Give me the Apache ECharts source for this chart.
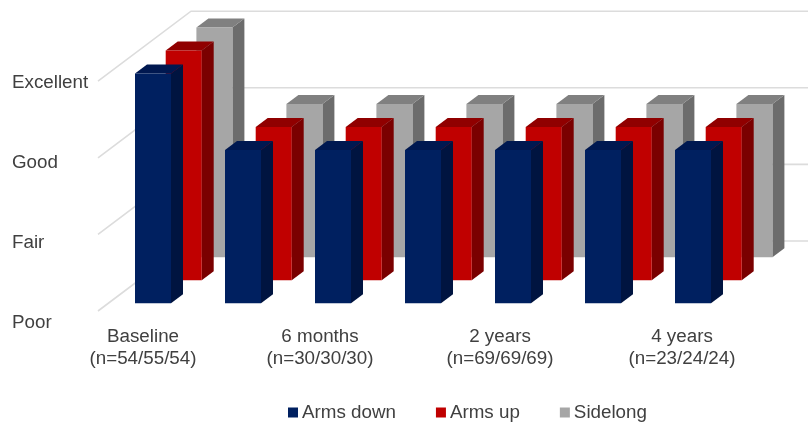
<!DOCTYPE html>
<html>
<head>
<meta charset="utf-8">
<style>html,body{margin:0;padding:0;background:#fff}#chart{width:808px;height:424px}</style>
<script src="https://cdn.jsdelivr.net/npm/echarts@6/dist/echarts.min.js"></script>
</head>
<body>
<div id="chart"></div>
<script>
// Shoulder function scores over follow-up, one value per time point.
const timePoints = ['Baseline\n(n=54/55/54)', '', '6 months\n(n=30/30/30)', '', '2 years\n(n=69/69/69)', '', '4 years\n(n=23/24/24)'];
const labelShift = [20, 0, 26, 0, 26, 0, 22];
const gradeLabels = ['Poor', 'Fair', 'Good', 'Excellent'];
const gradeLevels = [0, 1, 2, 3];
const armsDown = [3, 2, 2, 2, 2, 2, 2];
const armsUp = [3, 2, 2, 2, 2, 2, 2];
const sidelong = [3, 2, 2, 2, 2, 2, 2];

const textColor = '#404040';
const fontFamily = '"Liberation Sans", Arial, Helvetica, sans-serif';
const fontSize = 18.8;

// Oblique projection: one series row steps back by rowStep, a box is boxDepth deep.
const rowStep = [30.7, -23];
const boxDepth = [12, -9];

function boxRenderer(row, shades) {
  return function (params, api) {
    const cat = api.value(0);
    const base = api.coord([cat, 0]);
    const top = api.coord([cat, api.value(1)]);
    const w = api.size([1, 0])[0] * 0.4;
    const x0 = base[0] - w / 2 + row * rowStep[0];
    const x1 = x0 + w;
    const yb = base[1] + row * rowStep[1];
    const yt = top[1] + row * rowStep[1];
    const dx = boxDepth[0], dy = boxDepth[1];
    return {
      type: 'group',
      children: [
        { type: 'polygon', shape: { points: [[x1, yt], [x1 + dx, yt + dy], [x1 + dx, yb + dy], [x1, yb]] }, style: { fill: shades.side } },
        { type: 'polygon', shape: { points: [[x0, yt], [x0 + dx, yt + dy], [x1 + dx, yt + dy], [x1, yt]] }, style: { fill: shades.top } },
        { type: 'rect', shape: { x: x0, y: yt, width: w, height: yb - yt }, style: { fill: shades.front } }
      ]
    };
  };
}

// Grid on the side and back walls of the box, for each grade level.
function wallRenderer(params, api) {
  const p = api.coord([0, api.value(0)]);
  const fx = p[0] - 55, fy = p[1] + 7.7;
  const bx = fx + 93, by = fy - 70;
  return {
    type: 'polyline',
    shape: { points: [[fx, fy], [bx, by], [830, by]] },
    style: { fill: null, stroke: '#dcdcdc', lineWidth: 1.6 }
  };
}

function boxSeries(name, values, row, shades) {
  return {
    name: name,
    type: 'custom',
    xAxisIndex: 0,
    yAxisIndex: 0,
    clip: false,
    itemStyle: { color: shades.front },
    data: values.map(function (v, i) { return [i, v]; }),
    encode: { x: 0, y: 1 },
    renderItem: boxRenderer(row, shades)
  };
}

const chart = echarts.init(document.getElementById('chart'), null, { renderer: 'canvas' });
chart.setOption({
  animation: false,
  backgroundColor: '#ffffff',
  textStyle: { fontFamily: fontFamily },
  grid: [
    { left: 108, width: 630, top: 73.5, height: 229.8 },
    { left: 20, width: 60, top: 82.5, height: 240 }
  ],
  xAxis: [
    {
      gridIndex: 0,
      type: 'category',
      data: timePoints.map(function (t, i) {
        return { value: t, textStyle: { padding: [0, labelShift[i], 0, 0] } };
      }),
      axisLine: { show: false },
      axisTick: { show: false },
      axisLabel: {
        interval: 0,
        margin: 22.5,
        color: textColor,
        fontSize: fontSize,
        lineHeight: 22,
        fontFamily: fontFamily
      }
    },
    { gridIndex: 1, type: 'value', show: false }
  ],
  yAxis: [
    { gridIndex: 0, type: 'value', min: 0, max: 3, interval: 1, show: false },
    {
      gridIndex: 1,
      type: 'value',
      min: 0,
      max: 3,
      interval: 1,
      axisLine: { show: false },
      axisTick: { show: false },
      splitLine: { show: false },
      axisLabel: {
        align: 'left',
        margin: 8,
        color: textColor,
        fontSize: fontSize,
        fontFamily: fontFamily,
        formatter: function (v) { return gradeLabels[v]; }
      }
    }
  ],
  legend: {
    left: 288,
    top: 403,
    itemWidth: 10,
    itemHeight: 10,
    itemGap: 40,
    icon: 'rect',
    padding: 0,
    data: ['Arms down', 'Arms up', 'Sidelong'],
    textStyle: { color: textColor, fontSize: fontSize, fontFamily: fontFamily, padding: [0, 0, 0, -1] }
  },
  series: [
    {
      name: 'walls',
      type: 'custom',
      xAxisIndex: 0,
      yAxisIndex: 0,
      clip: false,
      silent: true,
      data: gradeLevels.map(function (v) { return [v]; }),
      encode: { y: 0 },
      renderItem: wallRenderer
    },
    boxSeries('Sidelong', sidelong, 2, { front: '#a6a6a6', side: '#6c6c6c', top: '#808080' }),
    boxSeries('Arms up', armsUp, 1, { front: '#c00000', side: '#7a0000', top: '#900000' }),
    boxSeries('Arms down', armsDown, 0, { front: '#002060', side: '#001440', top: '#001850' })
  ]
});
</script>
</body>
</html>
